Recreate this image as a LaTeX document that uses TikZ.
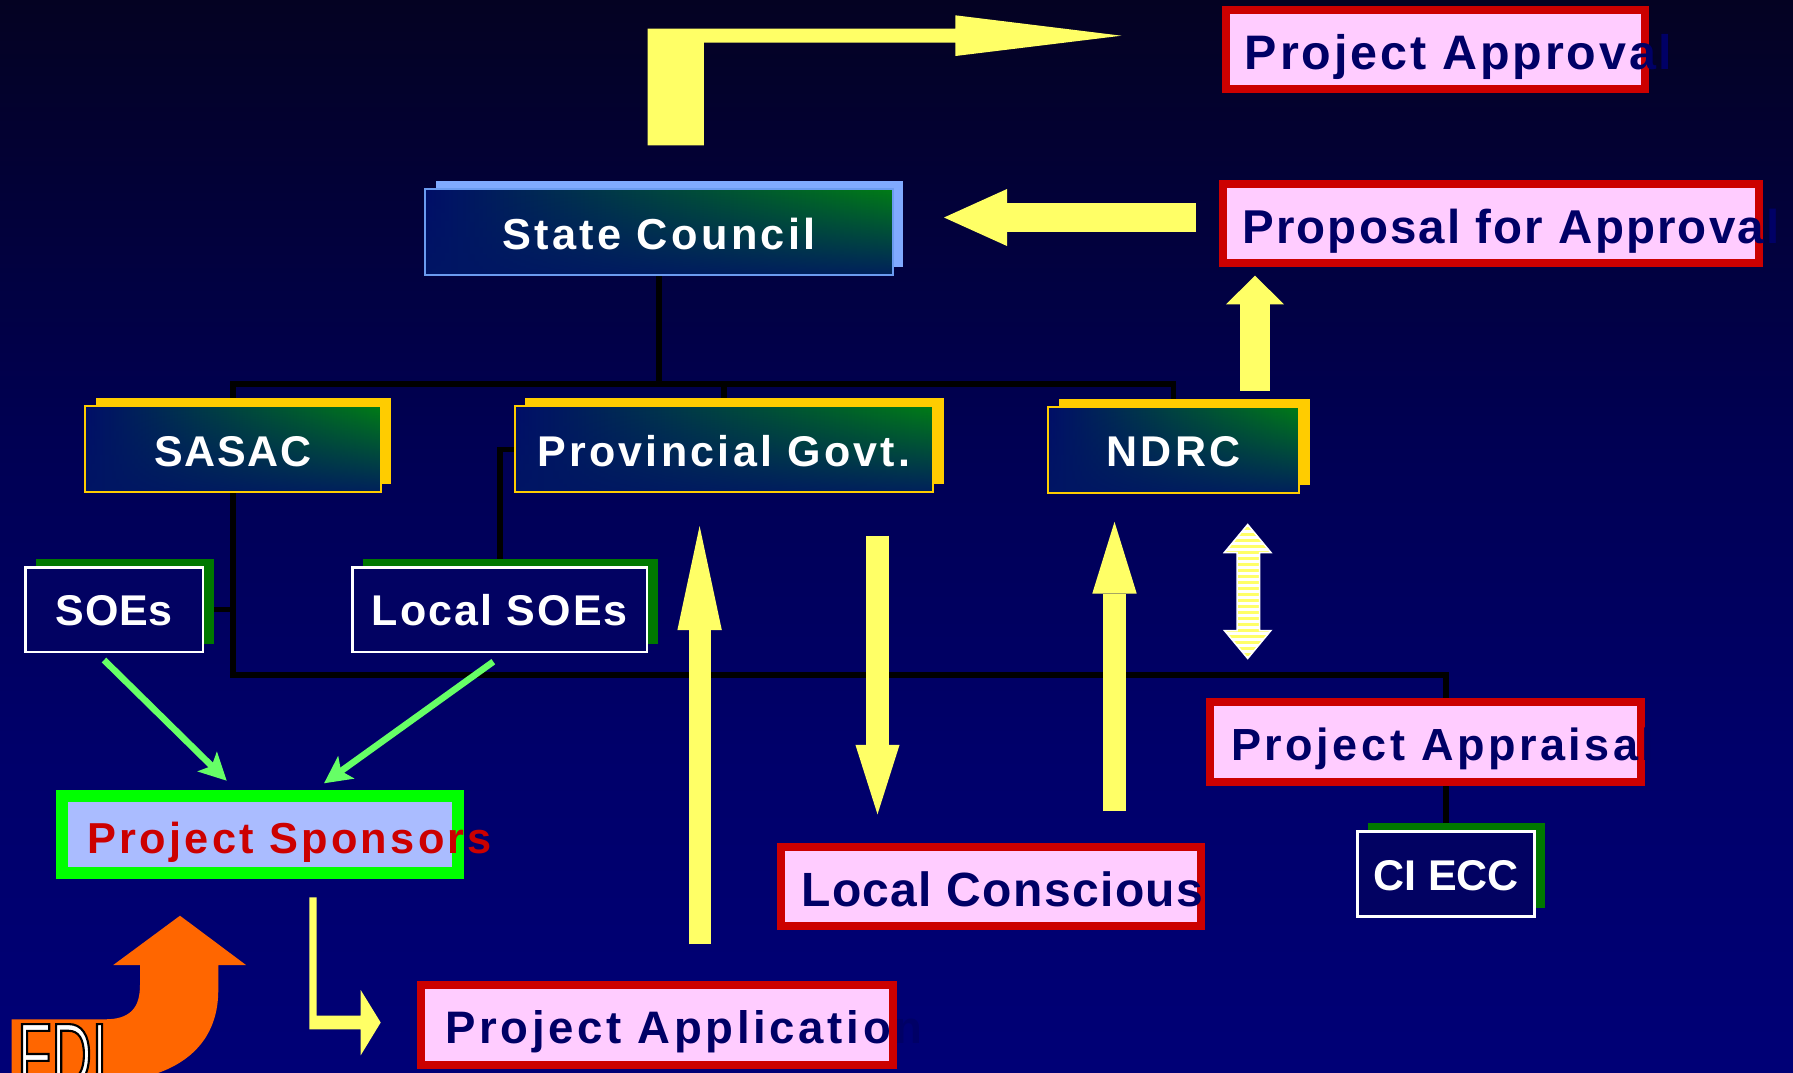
\documentclass[tikz,border=0pt]{standalone}
\usepackage{fontspec}
\setmainfont{Liberation Sans}
\newfontfamily\fdifont[FakeStretch=0.62]{Liberation Sans}
\usetikzlibrary{shadows,fadings,arrows.meta,calc}
\definecolor{bgt}{RGB}{4,2,34}
\definecolor{bgmb}{RGB}{0,0,82}
\definecolor{bgma}{RGB}{0,0,106}
\definecolor{bgb}{RGB}{0,0,118}
\definecolor{gl}{RGB}{0,14,104}
\definecolor{gr}{RGB}{0,124,22}
\definecolor{gbot}{RGB}{0,22,100}
\definecolor{gold}{RGB}{255,204,0}
\definecolor{scb}{RGB}{107,155,240}
\definecolor{scsh}{RGB}{128,170,255}
\definecolor{sgreen}{RGB}{0,120,0}
\definecolor{sfill}{RGB}{2,2,98}
\definecolor{pred}{RGB}{204,0,0}
\definecolor{ppink}{RGB}{255,204,255}
\definecolor{ptext}{RGB}{0,0,102}
\definecolor{lime}{RGB}{0,255,0}
\definecolor{spfill}{RGB}{170,188,255}
\definecolor{yel}{RGB}{255,255,102}
\definecolor{ggreen}{RGB}{102,255,102}
\definecolor{orng}{RGB}{255,102,0}
\pgfdeclareverticalshading{bgsh}{100bp}{color(0bp)=(bgb); color(25bp)=(bgb); color(40bp)=(bgma); color(55bp)=(bgmb); color(75bp)=(bgt); color(100bp)=(bgt)}
\tikzfading[name=bfade, top color=transparent!100, middle color=transparent!100, bottom color=transparent!10]
\pgfdeclarelayer{back}
\pgfsetlayers{back,main}
\newcommand\F[2]{\fontsize{#1}{#1}\selectfont\bfseries\addfontfeature{LetterSpace=#2}}
\tikzset{
  gbox/.style={draw=#1, line width=0.02cm, left color=gl, right color=gr, inner sep=0pt, text=white, text depth=0pt,
    path picture={\fill[gbot, path fading=bfade] (path picture bounding box.north west) rectangle (path picture bounding box.south east);}},
  shad/.style={general shadow={fill=#1, shadow xshift=0.107cm, shadow yshift=0.08cm}},
  sbox/.style={draw=white, line width=0.025cm, fill=sfill, text=white, inner sep=0pt, text depth=0pt, shad=sgreen},
  pbox/.style={draw=pred, line width=0.08cm, fill=ppink, text=ptext, inner ysep=0pt, text depth=0pt},
  spbox/.style={draw=lime, line width=0.123cm, fill=spfill, text=pred, inner ysep=0pt, text depth=0pt},
  org/.style={draw=black, line width=0.055cm},
  garr/.style={draw=ggreen, line width=0.065cm, -{Stealth[length=0.27cm,width=0.27cm,inset=0.06cm]}},
}
\begin{document}
\begin{tikzpicture}[x=0.01cm, y=-0.01cm]
\useasboundingbox (0,0) rectangle (1793,1072);
\clip (0,0) rectangle (1793,1072);
\begin{pgfonlayer}{back}
\shade[shading=bgsh] (0,0) rectangle (1793,1072);
\end{pgfonlayer}

% organisation boxes
\node[gbox=scb, shad=scsh, minimum width=4.673cm, minimum height=0.857cm, text height=0.343cm, font={\F{12.32pt}{7.7}}] (sc) at (659,232.2) {State Council};
\node[gbox=gold, shad=gold, minimum width=2.958cm, minimum height=0.858cm, text height=0.337cm, font={\F{12.23pt}{3.5}}] (sasac) at (232.8,449.4) {SASAC};
\node[gbox=gold, shad=gold, minimum width=4.179cm, minimum height=0.858cm, text height=0.337cm, font={\F{12.23pt}{7.6}}] (prov) at (723.8,449.4) {Provincial Govt.};
\node[gbox=gold, shad=gold, minimum width=2.504cm, minimum height=0.858cm, text height=0.337cm, font={\F{12.23pt}{7}}] (ndrc) at (1173.6,449.8) {NDRC};
\node[sbox, minimum width=1.77cm, minimum height=0.848cm, text height=0.321cm, font={\F{12.23pt}{1.5}}] (soes) at (114.3,609.7) {SOEs};
\node[sbox, minimum width=2.944cm, minimum height=0.848cm, text height=0.321cm, font={\F{12.23pt}{5}}] (lsoe) at (499.8,609.7) {Local SOEs};
\node[sbox, minimum width=1.771cm, minimum height=0.85cm, text height=0.339cm, font={\F{12.23pt}{0}}] (ciecc) at (1446,873.8) {CI ECC};

% pink process boxes
\node[pbox, minimum width=4.191cm, minimum height=0.793cm, inner xsep=0.191cm, text height=0.386cm, font={\F{13.77pt}{5.9}}] (pa) at (1435.5,49.7) {\makebox[3.809cm][l]{Project Approval}};
\node[pbox, minimum width=5.359cm, minimum height=0.787cm, inner xsep=0.196cm, text height=0.399cm, font={\F{13.5pt}{4.5}}] (pfa) at (1490.9,223.4) {\makebox[4.967cm][l]{Proposal for Approval}};
\node[pbox, minimum width=4.304cm, minimum height=0.801cm, inner xsep=0.211cm, text height=0.369cm, font={\F{12.8pt}{7.8}}] (pap) at (1425.6,742) {\makebox[3.882cm][l]{Project Appraisal}};
\node[pbox, minimum width=4.196cm, minimum height=0.793cm, inner xsep=0.201cm, text height=0.407cm, font={\F{13.66pt}{2.8}}] (lc) at (991.2,886.4) {\makebox[3.794cm][l]{Local Conscious}};
\node[pbox, minimum width=4.713cm, minimum height=0.797cm, inner xsep=0.24cm, text height=0.369cm, font={\F{12.95pt}{8}}] (papp) at (657.2,1024.9) {\makebox[4.233cm][l]{Project Application}};
\node[spbox, minimum width=3.956cm, minimum height=0.77cm, inner xsep=0.252cm, text height=0.372cm, font={\F{12.32pt}{7.6}}] (psp) at (260,834.7) {\makebox[3.452cm][l]{Project Sponsors}};

% organisation lines
\coordinate (busA) at (0,384);
\coordinate (busB) at (0,675);
\begin{pgfonlayer}{back}
\draw[org] (sc.center) -- (sc.center |- busA);
\draw[org] (sasac.center) -- (sasac.center |- busA) -- (ndrc.center |- busA) -- (ndrc.center);
\draw[org] (prov.center) -- (prov.center |- busA);
\draw[org] (sasac.center) -- (sasac.center |- busB) -- (ciecc.center |- busB) -- (ciecc.center);
\draw[org] (soes.center) -- (soes.center -| sasac.center);
\draw[org] (prov.center) -- (prov.center -| lsoe.center) -- (lsoe.center);
\end{pgfonlayer}

% straight yellow block arrows
\coordinate (y1s) at (1196,217.5); \coordinate (y1e) at (944,217.5);
\coordinate (y2s) at (1255,390.7); \coordinate (y2e) at (1255,275.7);
\coordinate (y3s) at (699.6,944.3); \coordinate (y3e) at (699.6,526);
\coordinate (y4s) at (877.5,535.7); \coordinate (y4e) at (877.5,814.3);
\coordinate (y5s) at (1114.5,811); \coordinate (y5e) at (1114.5,521.8);
\draw[yel, line width=0.29cm, -{Triangle[length=0.63cm,width=0.57cm,line width=0pt]}] (y1s) -- (y1e);
\draw[yel, line width=0.30cm, -{Triangle[length=0.286cm,width=0.58cm,line width=0pt]}] (y2s) -- (y2e);
\draw[yel, line width=0.22cm, -{Triangle[length=1.04cm,width=0.444cm,line width=0pt]}] (y3s) -- (y3e);
\draw[yel, line width=0.23cm, -{Triangle[length=0.693cm,width=0.44cm,line width=0pt]}] (y4s) -- (y4e);
\draw[yel, line width=0.23cm, -{Triangle[length=0.717cm,width=0.444cm,line width=0pt]}] (y5s) -- (y5e);

% bent yellow arrows
\fill[yel] (647.5,145.3) -- (647.5,28.7) -- (955.4,28.7) -- (955.4,15.3) -- (1121.4,35.7) -- (955.4,56) -- (955.4,42.7) -- (703.9,42.7) -- (703.9,145.3) -- cycle;
\fill[yel] (309.3,897.3) -- (316.7,897.3) -- (316.7,1015.7) -- (360.7,1015.7) -- (360.7,990) -- (380.7,1022.5) -- (360.7,1055.3) -- (360.7,1029.3) -- (309.3,1029.3) -- cycle;

% striped double arrow
\begin{scope}
\clip (1237.2,552.5) -- (1224.4,552.5) -- (1247.7,524.5) -- (1270.9,552.5) -- (1259.5,552.5) -- (1259.5,630.5) -- (1270.9,630.5) -- (1247.7,658.5) -- (1224.4,630.5) -- (1237.2,630.5) -- cycle;
\fill[yel] (1220,520) rectangle (1275,662);
\foreach \yy in {524,530,...,660} \fill[white] (1220,\yy) rectangle (1275,\yy+2.6);
\end{scope}
\draw[white, line width=0.015cm, line join=miter] (1237.2,552.5) -- (1224.4,552.5) -- (1247.7,524.5) -- (1270.9,552.5) -- (1259.5,552.5) -- (1259.5,630.5) -- (1270.9,630.5) -- (1247.7,658.5) -- (1224.4,630.5) -- (1237.2,630.5) -- cycle;

% green arrows
\draw[garr] ($(soes.center)+(-10.3,50.3)$) -- ($(psp.center)+(-33.3,-54)$);
\draw[garr] ($(lsoe.center)+(-6.5,52)$) -- ($(psp.center)+(64,-51.4)$);

% orange FDI arrow
\fill[orng] (11.7,1019.3) -- (105,1019.3) .. controls (130,1019.3) and (140,1008) .. (140,985) -- (140,965) -- (113.3,965) -- (180,915.7) -- (246,965) -- (218.3,965) -- (218.3,990) .. controls (218.3,1045) and (180,1072) .. (130,1080) -- (11.7,1080) -- cycle;
\node[anchor=base west, inner sep=0pt, text=white, font={\fontsize{25.6pt}{26pt}\selectfont\fdifont}] (fdi) at (16.7,1086) {\special{pdf:literal direct 2 Tr 0.6 w 0 0 0 RG}FDI\special{pdf:literal direct 0 Tr}};
\end{tikzpicture}
\end{document}
